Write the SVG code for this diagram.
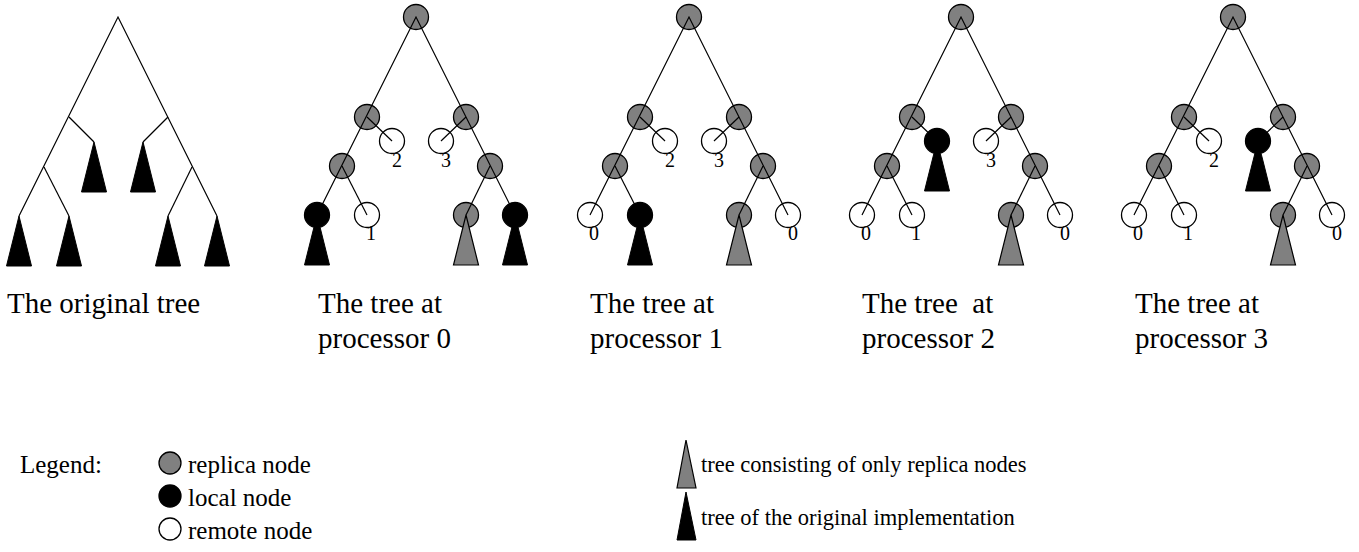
<svg xmlns="http://www.w3.org/2000/svg" width="1359" height="552" viewBox="0 0 1359 552">
<style>
.ln{stroke:#000;stroke-width:1.2;fill:none}
.rep{fill:#808080;stroke:#000;stroke-width:1.3}
.loc{fill:#000;stroke:#000;stroke-width:1.3}
.rem{fill:#fff;stroke:#000;stroke-width:1.3}
.tb{fill:#000;stroke:#000;stroke-width:1}
.tg{fill:#808080;stroke:#000;stroke-width:1.2}
.lbl{font-family:"Liberation Serif","Times New Roman",serif;font-size:20px;fill:#000;text-anchor:middle}
.cap{font-family:"Liberation Serif","Times New Roman",serif;font-size:29px;fill:#000}
.leg{font-family:"Liberation Serif","Times New Roman",serif;font-size:25px;fill:#000}
.leg2{font-family:"Liberation Serif","Times New Roman",serif;font-size:22.5px;fill:#000}
</style>
<defs>
<circle id="cRep" r="12.5" class="rep"/>
<circle id="cLoc" r="12.5" class="loc"/>
<circle id="cRem" r="12.5" class="rem"/>
<polygon id="triB" points="0,0 -12.5,50 12.5,50" class="tb"/>
<polygon id="triG" points="0,0 -12.5,50 12.5,50" class="tg"/>
</defs>
<rect width="1359" height="552" fill="#fff"/>

<!-- Original tree -->
<g id="orig">
<g id="orig-connectors">
<polyline class="ln" points="19,216 118,17 217,216"/>
<line class="ln" x1="69" y1="117" x2="94" y2="142"/>
<line class="ln" x1="44" y1="167" x2="69" y2="216"/>
<line class="ln" x1="168" y1="117" x2="143" y2="142"/>
<line class="ln" x1="192" y1="167" x2="168" y2="216"/>
</g>
<g id="orig-t1"><use href="#triB" x="94" y="142"/></g>
<g id="orig-t2"><use href="#triB" x="143" y="142"/></g>
<g id="orig-t3"><use href="#triB" x="19" y="216"/></g>
<g id="orig-t4"><use href="#triB" x="69" y="216"/></g>
<g id="orig-t5"><use href="#triB" x="168" y="216"/></g>
<g id="orig-t6"><use href="#triB" x="217" y="216"/></g>
<text class="cap" x="7" y="313">The original tree</text>
</g>

<!-- Processor 0 -->
<g id="p0" transform="translate(298,0)">
<g id="p0-root"><use href="#cRep" x="118" y="17"/></g>
<g id="p0-l1"><use href="#cRep" x="69" y="117"/></g>
<g id="p0-r1"><use href="#cRep" x="168" y="117"/></g>
<g id="p0-ml"><use href="#cRem" x="94" y="141"/><text class="lbl" x="99" y="167">2</text></g>
<g id="p0-mr"><use href="#cRem" x="143" y="141"/><text class="lbl" x="148" y="167">3</text></g>
<g id="p0-l2"><use href="#cRep" x="44" y="166"/></g>
<g id="p0-r2"><use href="#cRep" x="192" y="166"/></g>
<g id="p0-ll"><use href="#cLoc" x="19" y="215"/><use href="#triB" x="19" y="215"/></g>
<g id="p0-lr"><use href="#cRem" x="69" y="215"/><text class="lbl" x="73" y="240">1</text></g>
<g id="p0-rl"><use href="#cRep" x="168" y="215"/><use href="#triG" x="168" y="215"/></g>
<g id="p0-rr"><use href="#cLoc" x="217" y="215"/><use href="#triB" x="217" y="215"/></g>
<g id="p0-connectors">
<polyline class="ln" points="19,215 118,17 217,215"/>
<line class="ln" x1="69" y1="117" x2="94" y2="141"/>
<line class="ln" x1="44" y1="166" x2="69" y2="215"/>
<line class="ln" x1="168" y1="117" x2="143" y2="141"/>
<line class="ln" x1="192" y1="166" x2="168" y2="215"/>
</g>
<text class="cap" x="20" y="313">The tree at</text>
<text class="cap" x="20" y="348">processor 0</text>
</g>

<!-- Processor 1 -->
<g id="p1" transform="translate(571,0)">
<g id="p1-root"><use href="#cRep" x="118" y="17"/></g>
<g id="p1-l1"><use href="#cRep" x="69" y="117"/></g>
<g id="p1-r1"><use href="#cRep" x="168" y="117"/></g>
<g id="p1-ml"><use href="#cRem" x="94" y="141"/><text class="lbl" x="99" y="167">2</text></g>
<g id="p1-mr"><use href="#cRem" x="143" y="141"/><text class="lbl" x="148" y="167">3</text></g>
<g id="p1-l2"><use href="#cRep" x="44" y="166"/></g>
<g id="p1-r2"><use href="#cRep" x="192" y="166"/></g>
<g id="p1-ll"><use href="#cRem" x="19" y="215"/><text class="lbl" x="23" y="240">0</text></g>
<g id="p1-lr"><use href="#cLoc" x="69" y="215"/><use href="#triB" x="69" y="215"/></g>
<g id="p1-rl"><use href="#cRep" x="168" y="215"/><use href="#triG" x="168" y="215"/></g>
<g id="p1-rr"><use href="#cRem" x="217" y="215"/><text class="lbl" x="222" y="240">0</text></g>
<g id="p1-connectors">
<polyline class="ln" points="19,215 118,17 217,215"/>
<line class="ln" x1="69" y1="117" x2="94" y2="141"/>
<line class="ln" x1="44" y1="166" x2="69" y2="215"/>
<line class="ln" x1="168" y1="117" x2="143" y2="141"/>
<line class="ln" x1="192" y1="166" x2="168" y2="215"/>
</g>
<text class="cap" x="19" y="313">The tree at</text>
<text class="cap" x="19" y="348">processor 1</text>
</g>

<!-- Processor 2 -->
<g id="p2" transform="translate(843,0)">
<g id="p2-root"><use href="#cRep" x="118" y="17"/></g>
<g id="p2-l1"><use href="#cRep" x="69" y="117"/></g>
<g id="p2-r1"><use href="#cRep" x="168" y="117"/></g>
<g id="p2-ml"><use href="#cLoc" x="94" y="141"/><use href="#triB" x="94" y="141"/></g>
<g id="p2-mr"><use href="#cRem" x="143" y="141"/><text class="lbl" x="148" y="167">3</text></g>
<g id="p2-l2"><use href="#cRep" x="44" y="166"/></g>
<g id="p2-r2"><use href="#cRep" x="192" y="166"/></g>
<g id="p2-ll"><use href="#cRem" x="19" y="215"/><text class="lbl" x="23" y="240">0</text></g>
<g id="p2-lr"><use href="#cRem" x="69" y="215"/><text class="lbl" x="73" y="240">1</text></g>
<g id="p2-rl"><use href="#cRep" x="168" y="215"/><use href="#triG" x="168" y="215"/></g>
<g id="p2-rr"><use href="#cRem" x="217" y="215"/><text class="lbl" x="222" y="240">0</text></g>
<g id="p2-connectors">
<polyline class="ln" points="19,215 118,17 217,215"/>
<line class="ln" x1="69" y1="117" x2="94" y2="141"/>
<line class="ln" x1="44" y1="166" x2="69" y2="215"/>
<line class="ln" x1="168" y1="117" x2="143" y2="141"/>
<line class="ln" x1="192" y1="166" x2="168" y2="215"/>
</g>
<text class="cap" x="19" y="313" xml:space="preserve">The tree  at</text>
<text class="cap" x="19" y="348">processor 2</text>
</g>

<!-- Processor 3 -->
<g id="p3" transform="translate(1115,0)">
<g id="p3-root"><use href="#cRep" x="118" y="17"/></g>
<g id="p3-l1"><use href="#cRep" x="69" y="117"/></g>
<g id="p3-r1"><use href="#cRep" x="168" y="117"/></g>
<g id="p3-ml"><use href="#cRem" x="94" y="141"/><text class="lbl" x="99" y="167">2</text></g>
<g id="p3-mr"><use href="#cLoc" x="143" y="141"/><use href="#triB" x="143" y="141"/></g>
<g id="p3-l2"><use href="#cRep" x="44" y="166"/></g>
<g id="p3-r2"><use href="#cRep" x="192" y="166"/></g>
<g id="p3-ll"><use href="#cRem" x="19" y="215"/><text class="lbl" x="23" y="240">0</text></g>
<g id="p3-lr"><use href="#cRem" x="69" y="215"/><text class="lbl" x="73" y="240">1</text></g>
<g id="p3-rl"><use href="#cRep" x="168" y="215"/><use href="#triG" x="168" y="215"/></g>
<g id="p3-rr"><use href="#cRem" x="217" y="215"/><text class="lbl" x="222" y="240">0</text></g>
<g id="p3-connectors">
<polyline class="ln" points="19,215 118,17 217,215"/>
<line class="ln" x1="69" y1="117" x2="94" y2="141"/>
<line class="ln" x1="44" y1="166" x2="69" y2="215"/>
<line class="ln" x1="168" y1="117" x2="143" y2="141"/>
<line class="ln" x1="192" y1="166" x2="168" y2="215"/>
</g>
<text class="cap" x="20" y="313">The tree at</text>
<text class="cap" x="20" y="348">processor 3</text>
</g>

<!-- Legend -->
<g id="legend">
<text class="leg" x="20" y="473">Legend:</text>
<g id="leg-replica"><circle cx="170" cy="463" r="11" class="rep"/><text class="leg" x="188" y="473">replica node</text></g>
<g id="leg-local"><circle cx="170" cy="496" r="11" class="loc"/><text class="leg" x="188" y="506">local node</text></g>
<g id="leg-remote"><circle cx="170" cy="529" r="11" class="rem"/><text class="leg" x="188" y="539">remote node</text></g>
<g id="leg-tg"><polygon points="686,440 677,488 696,488" class="tg"/><text class="leg2" x="701" y="472">tree consisting of only replica nodes</text></g>
<g id="leg-tb"><polygon points="686,492 677,540 696,540" class="tb"/><text class="leg2" x="701" y="525">tree of the original implementation</text></g>
</g>
</svg>
